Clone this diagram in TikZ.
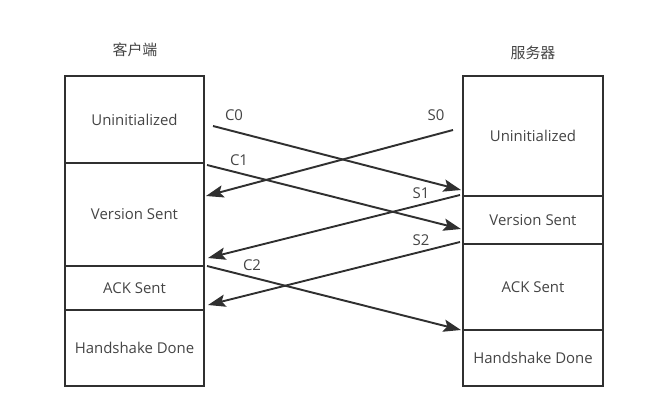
\documentclass[tikz,border=0pt]{standalone}
\usepackage{fontspec}
\setmainfont{Open Sans}
\newfontfamily\cjk{Noto Sans CJK SC}
\usetikzlibrary{arrows.meta}
\newlength\px
\setlength\px{0.02cm}
\definecolor{ink}{HTML}{303030}
\definecolor{txt}{HTML}{444444}
\tikzset{
    state/.style={draw=ink, line width=1.1pt, rectangle, inner sep=0pt,
        font=\fontsize{8.5}{10}\selectfont, text=txt},
    msg/.style={draw=ink, line width=1.1pt, -{Stealth[length=10pt,width=7pt,inset=2pt]}},
    lbl/.style={font=\fontsize{8.5}{10}\selectfont, text=txt},
    side/.style={font=\cjk\fontsize{8.5}{10}\selectfont, text=txt}
}
\begin{document}
\begin{tikzpicture}[x=1\px, y=-1\px]
    \useasboundingbox (0,0) rectangle (666,408);
    % Titles
    \node[side] (client) at (135,50) {客户端};
    \node[side] (server) at (533,53) {服务器};
    % Client states
    \node[state, minimum width=139\px, minimum height=87\px] (cinit) at (134.5,119.5) {Uninitialized};
    \node[state, minimum width=139\px, minimum height=103\px] (cver) at (134.5,214.5) {Version Sent};
    \node[state, minimum width=139\px, minimum height=44\px] (cack) at (134.5,288) {ACK Sent};
    \node[state, minimum width=139\px, minimum height=76\px] (cdone) at (134.5,348) {Handshake Done};
    % Server states
    \node[state, minimum width=140\px, minimum height=120\px] (sinit) at (533,136) {Uninitialized};
    \node[state, minimum width=140\px, minimum height=48\px] (sver) at (533,220) {Version Sent};
    \node[state, minimum width=140\px, minimum height=86\px] (sack) at (533,287) {ACK Sent};
    \node[state, minimum width=140\px, minimum height=56\px] (sdone) at (533,358) {Handshake Done};
    % Message ends
    \coordinate (c0a) at (213,126);
    \coordinate (c0b) at (461,190);
    \coordinate (s0a) at (453,130);
    \coordinate (s0b) at (206,196);
    \coordinate (c1a) at (207,165);
    \coordinate (c1b) at (461,229);
    \coordinate (s1a) at (460,195);
    \coordinate (s1b) at (208,258);
    \coordinate (s2a) at (460,242);
    \coordinate (s2b) at (208,305);
    \coordinate (c2a) at (207,266);
    \coordinate (c2b) at (461,330);
    % Messages
    \draw[msg] (c0a) -- (c0b);
    \draw[msg] (s0a) -- (s0b);
    \draw[msg] (c1a) -- (c1b);
    \draw[msg] (s1a) -- (s1b);
    \draw[msg] (s2a) -- (s2b);
    \draw[msg] (c2a) -- (c2b);
    % Labels
    \node[lbl] (lc0) at (234,115) {C0};
    \node[lbl] (ls0) at (436,115) {S0};
    \node[lbl] (lc1) at (239,160) {C1};
    \node[lbl] (ls1) at (421,193) {S1};
    \node[lbl] (ls2) at (421,240) {S2};
    \node[lbl] (lc2) at (252,265) {C2};
\end{tikzpicture}
\end{document}
